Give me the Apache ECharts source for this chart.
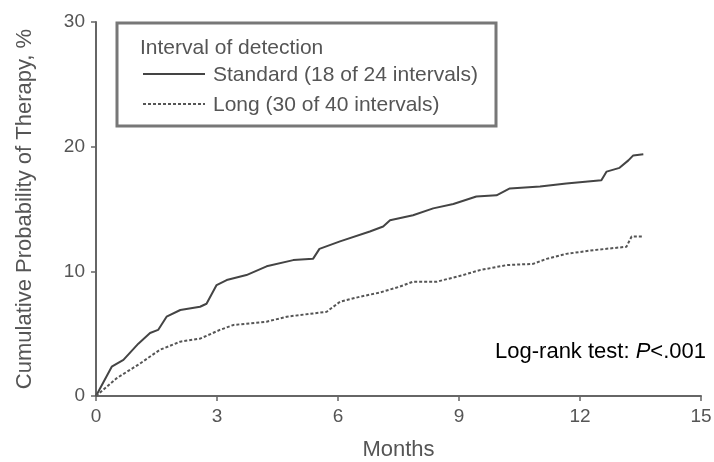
<!DOCTYPE html>
<html>
<head>
<meta charset="utf-8">
<script src="https://cdn.jsdelivr.net/npm/echarts@6/dist/echarts.min.js"></script>
<style>
  html, body { margin: 0; padding: 0; background: #fff; }
  #chart { width: 714px; height: 462px; }
</style>
</head>
<body>
<div id="chart"></div>
<script>
// Cumulative probability of therapy by interval of detection
const standardMonths = [0, 0.39, 0.68, 1.05, 1.34, 1.54, 1.75, 2.09, 2.58, 2.74, 2.99, 3.24, 3.73, 4.23, 4.89, 5.38, 5.54, 6.05, 6.79, 7.12, 7.29, 7.86, 8.36, 8.86, 9.43, 9.93, 10.26, 11.01, 11.66, 12.53, 12.66, 12.98, 13.2, 13.32, 13.57];
const standardValues = [0, 2.35, 2.9, 4.2, 5.05, 5.3, 6.36, 6.9, 7.16, 7.4, 8.9, 9.3, 9.7, 10.4, 10.9, 11.0, 11.8, 12.4, 13.2, 13.6, 14.1, 14.5, 15.05, 15.4, 16.0, 16.1, 16.65, 16.8, 17.05, 17.3, 18.0, 18.3, 18.9, 19.3, 19.4];

const longMonths = [0, 0.51, 1.09, 1.58, 2.09, 2.58, 3.07, 3.41, 4.23, 4.73, 5.72, 6.05, 6.54, 7.04, 7.53, 7.86, 8.45, 9.1, 9.52, 10.18, 10.84, 11.17, 11.66, 12.33, 13.15, 13.28, 13.57];
const longValues = [0, 1.42, 2.6, 3.7, 4.36, 4.6, 5.3, 5.7, 5.96, 6.36, 6.76, 7.56, 7.96, 8.3, 8.77, 9.17, 9.17, 9.7, 10.1, 10.5, 10.6, 11.0, 11.4, 11.7, 11.97, 12.8, 12.8];

const seriesNames = ['Standard (18 of 24 intervals)', 'Long (30 of 40 intervals)'];
const legendTitle = 'Interval of detection';
const xTicks = [0, 3, 6, 9, 12, 15];
const yTicks = [0, 10, 20, 30];

const pairs = (xs, ys) => xs.map((x, i) => [x, ys[i]]);

const FONT = '"Liberation Sans", Arial, sans-serif';
const TEXT = '#555';
const AXIS = '#666';

const chart = echarts.init(document.getElementById('chart'), null, { renderer: 'canvas' });

chart.setOption({
  animation: false,
  backgroundColor: '#fff',
  grid: { left: 96, right: 13, top: 22, bottom: 66, outerBoundsMode: 'none', containLabel: false },
  xAxis: {
    type: 'value',
    min: xTicks[0],
    max: xTicks[xTicks.length - 1],
    interval: 3,
    name: 'Months',
    nameLocation: 'middle',
    nameGap: 43,
    nameTextStyle: { fontFamily: FONT, fontSize: 22, color: TEXT },
    axisLine: { lineStyle: { color: AXIS, width: 2 } },
    axisTick: { length: 5, lineStyle: { color: AXIS, width: 1.5 } },
    axisLabel: { fontFamily: FONT, fontSize: 19, color: TEXT, margin: 11 },
    splitLine: { show: false }
  },
  yAxis: {
    type: 'value',
    min: yTicks[0],
    max: yTicks[yTicks.length - 1],
    interval: 10,
    name: 'Cumulative Probability of Therapy, %',
    nameLocation: 'middle',
    nameGap: 60,
    nameTextStyle: { fontFamily: FONT, fontSize: 22, color: TEXT },
    axisLine: { show: true, lineStyle: { color: AXIS, width: 2 } },
    axisTick: { show: true, length: 5, lineStyle: { color: AXIS, width: 1.5 } },
    axisLabel: { fontFamily: FONT, fontSize: 19, color: TEXT, margin: 11 },
    splitLine: { show: false }
  },
  series: [
    {
      name: seriesNames[0],
      type: 'line',
      data: pairs(standardMonths, standardValues),
      showSymbol: false,
      lineStyle: { color: '#444', width: 2 },
      z: 3
    },
    {
      name: seriesNames[1],
      type: 'line',
      data: pairs(longMonths, longValues),
      showSymbol: false,
      lineStyle: { color: '#555', width: 2, type: [3, 2] },
      z: 3
    }
  ],
  graphic: [
    {
      type: 'rect',
      shape: { x: 117, y: 23, width: 379, height: 103 },
      style: { fill: '#fff', stroke: '#777', lineWidth: 3 },
      z: 10
    },
    {
      type: 'text',
      x: 140, y: 48,
      style: { text: legendTitle, font: '21px ' + FONT, fill: TEXT, verticalAlign: 'middle' },
      z: 11
    },
    {
      type: 'line',
      shape: { x1: 143, y1: 74, x2: 205, y2: 74 },
      style: { stroke: '#444', lineWidth: 2 },
      z: 11
    },
    {
      type: 'text',
      x: 213, y: 75,
      style: { text: seriesNames[0], font: '21px ' + FONT, fill: TEXT, verticalAlign: 'middle' },
      z: 11
    },
    {
      type: 'line',
      shape: { x1: 143, y1: 104, x2: 205, y2: 104 },
      style: { stroke: '#555', lineWidth: 2, lineDash: [3, 2] },
      z: 11
    },
    {
      type: 'text',
      x: 213, y: 105,
      style: { text: seriesNames[1], font: '21px ' + FONT, fill: TEXT, verticalAlign: 'middle' },
      z: 11
    },
    {
      type: 'text',
      x: 706, y: 352,
      style: {
        text: '{n|Log-rank test: }{i|P}{n|<.001}',
        align: 'right',
        verticalAlign: 'middle',
        rich: {
          n: { fontFamily: FONT, fontSize: 22, color: TEXT },
          i: { fontFamily: FONT, fontSize: 22, fontStyle: 'italic', color: TEXT }
        }
      },
      z: 11
    }
  ]
});
</script>
</body>
</html>
